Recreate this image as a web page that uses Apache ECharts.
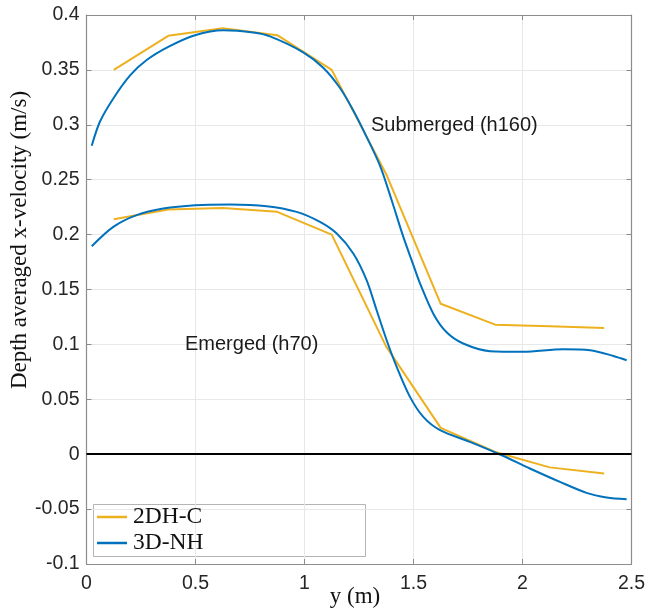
<!DOCTYPE html>
<html>
<head>
<meta charset="utf-8">
<script src="https://cdn.jsdelivr.net/npm/echarts@6/dist/echarts.min.js"></script>
<style>html,body{margin:0;padding:0;background:#fff}#c{width:648px;height:612px}</style>
</head>
<body>
<div id="c"></div>
<script>
// 2DH-C (orange) sample positions and values
const x2dh = [0.125, 0.375, 0.625, 0.875, 1.125, 1.375, 1.625, 1.875, 2.125, 2.375];
const sub2dh = [0.350, 0.381, 0.388, 0.3816, 0.350, 0.255, 0.137, 0.118, 0.1165, 0.115];
const emg2dh = [0.214, 0.2228, 0.2243, 0.2207, 0.200, 0.098, 0.024, 0.002, -0.012, -0.0175];

// 3D-NH (blue) submerged
const xSub3d = [0.024, 0.062, 0.123, 0.2, 0.276, 0.375, 0.498, 0.628, 0.765, 0.842, 0.994, 1.086, 1.163, 1.224, 1.285, 1.346, 1.40, 1.45, 1.50, 1.53, 1.591, 1.652, 1.728, 1.851, 2.004, 2.187, 2.31, 2.417, 2.478];
const sub3d  = [0.281, 0.303, 0.324, 0.345, 0.359, 0.371, 0.3816, 0.386, 0.384, 0.3805, 0.366, 0.352, 0.3335, 0.313, 0.289, 0.263, 0.2313, 0.200, 0.172, 0.1555, 0.128, 0.111, 0.1008, 0.0938, 0.0932, 0.0956, 0.0947, 0.0895, 0.0856];

// 3D-NH (blue) emerged
const xEmg3d = [0.024, 0.123, 0.23, 0.352, 0.498, 0.658, 0.827, 0.964, 1.071, 1.148, 1.224, 1.285, 1.331, 1.377, 1.423, 1.484, 1.545, 1.622, 1.759, 1.897, 2.034, 2.172, 2.294, 2.386, 2.478];
const emg3d  = [0.1894, 0.207, 0.2177, 0.2237, 0.2268, 0.2274, 0.2259, 0.2207, 0.2116, 0.201, 0.1828, 0.1585, 0.1311, 0.1038, 0.0795, 0.0522, 0.034, 0.0219, 0.0112, -0.0003, -0.013, -0.0252, -0.0352, -0.0394, -0.041];

const seriesNames = ['2DH-C', '3D-NH'];
const xTicks = [0, 0.5, 1, 1.5, 2, 2.5];
const yTicks = [-0.1, -0.05, 0, 0.05, 0.1, 0.15, 0.2, 0.25, 0.3, 0.35, 0.4];
const annotations = ['Submerged (h160)', 'Emerged (h70)'];
const xLabel = 'y (m)';
const yLabel = 'Depth averaged x-velocity (m/s)';

const ORANGE = '#EDB120', BLUE = '#0072BD';
const zip = (xs, ys) => xs.map((x, i) => [x, ys[i]]);

const chart = echarts.init(document.getElementById('c'), null, {renderer: 'canvas'});
const axisGray = '#8c8c8c';
const tickFont = {fontFamily: 'Liberation Sans, Arial, sans-serif', fontSize: 19.5, color: '#262626'};
const annFont = 'Liberation Sans, Arial, sans-serif';

chart.setOption({
  animation: false,
  backgroundColor: '#fff',
  grid: {left: 86.5, right: 16.3, top: 15, bottom: 48, containLabel: false},
  xAxis: [{
    type: 'value', min: xTicks[0], max: xTicks[xTicks.length - 1], interval: 0.5,
    axisLine: {show: true, onZero: false, lineStyle: {color: axisGray, width: 1.2}},
    axisTick: {show: true, inside: true, length: 5, lineStyle: {color: axisGray}},
    axisLabel: Object.assign({margin: 10}, tickFont),
    splitLine: {show: true, lineStyle: {color: '#e8e8e8', width: 1}}
  }, {
    type: 'value', position: 'top', min: xTicks[0], max: xTicks[xTicks.length - 1], interval: 0.5,
    axisLine: {show: true, onZero: false, lineStyle: {color: axisGray, width: 1.2}},
    axisTick: {show: true, inside: true, length: 5, lineStyle: {color: axisGray}},
    axisLabel: {show: false}, splitLine: {show: false}
  }],
  yAxis: [{
    type: 'value', min: yTicks[0], max: yTicks[yTicks.length - 1], interval: 0.05,
    axisLine: {show: true, onZero: false, lineStyle: {color: axisGray, width: 1.2}},
    axisTick: {show: true, inside: true, length: 5, lineStyle: {color: axisGray}},
    axisLabel: Object.assign({margin: 7, formatter: v => String(+v.toFixed(2))}, tickFont),
    splitLine: {show: true, lineStyle: {color: '#e8e8e8', width: 1}}
  }, {
    type: 'value', position: 'right', min: yTicks[0], max: yTicks[yTicks.length - 1], interval: 0.05,
    axisLine: {show: true, onZero: false, lineStyle: {color: axisGray, width: 1.2}},
    axisTick: {show: true, inside: true, length: 5, lineStyle: {color: axisGray}},
    axisLabel: {show: false}, splitLine: {show: false}
  }],
  legend: {
    data: seriesNames,
    orient: 'vertical', left: 97, top: 504, padding: 0, itemGap: 0,
    icon: 'rect', itemWidth: 30, itemHeight: 2.5,
    textStyle: {fontFamily: 'Liberation Serif, Times New Roman, serif', fontSize: 23.5, color: '#111', lineHeight: 26, padding: [0, 0, 0, 1]}
  },
  graphic: [
    {type: 'rect', z: 0, shape: {x: 93.5, y: 504.5, width: 272, height: 52}, style: {fill: '#fff', stroke: '#b4b4b4', lineWidth: 1}},
    {type: 'text', z: 10, left: 371, top: 115, style: {text: annotations[0], fontFamily: annFont, fontSize: 20, fill: '#1a1a1a'}},
    {type: 'text', z: 10, left: 185, top: 334, style: {text: annotations[1], fontFamily: annFont, fontSize: 20, fill: '#1a1a1a'}},
    {type: 'text', z: 10, x: 8, y: 240, rotation: Math.PI / 2, style: {text: yLabel, fontFamily: 'Liberation Serif, Times New Roman, serif', fontSize: 23, fill: '#111', align: 'center', verticalAlign: 'top'}},
    {type: 'text', z: 10, x: 355, y: 597, style: {text: xLabel, fontFamily: 'Liberation Serif, Times New Roman, serif', fontSize: 23, fill: '#111', align: 'center', verticalAlign: 'middle'}}
  ],
  series: [
    {name: seriesNames[0], type: 'line', data: zip(x2dh, sub2dh), showSymbol: false, smooth: false, lineStyle: {color: ORANGE, width: 2}, itemStyle: {color: ORANGE}, z: 3,
     markLine: {silent: true, symbol: 'none', label: {show: false}, lineStyle: {color: '#000', width: 2, type: 'solid'}, data: [{yAxis: 0}]}},
    {name: seriesNames[0], type: 'line', data: zip(x2dh, emg2dh), showSymbol: false, smooth: false, lineStyle: {color: ORANGE, width: 2}, itemStyle: {color: ORANGE}, z: 3},
    {name: seriesNames[1], type: 'line', data: zip(xSub3d, sub3d), showSymbol: false, smooth: 0.3, lineStyle: {color: BLUE, width: 2}, itemStyle: {color: BLUE}, z: 4},
    {name: seriesNames[1], type: 'line', data: zip(xEmg3d, emg3d), showSymbol: false, smooth: 0.3, lineStyle: {color: BLUE, width: 2}, itemStyle: {color: BLUE}, z: 4}
  ]
});
</script>
</body>
</html>
